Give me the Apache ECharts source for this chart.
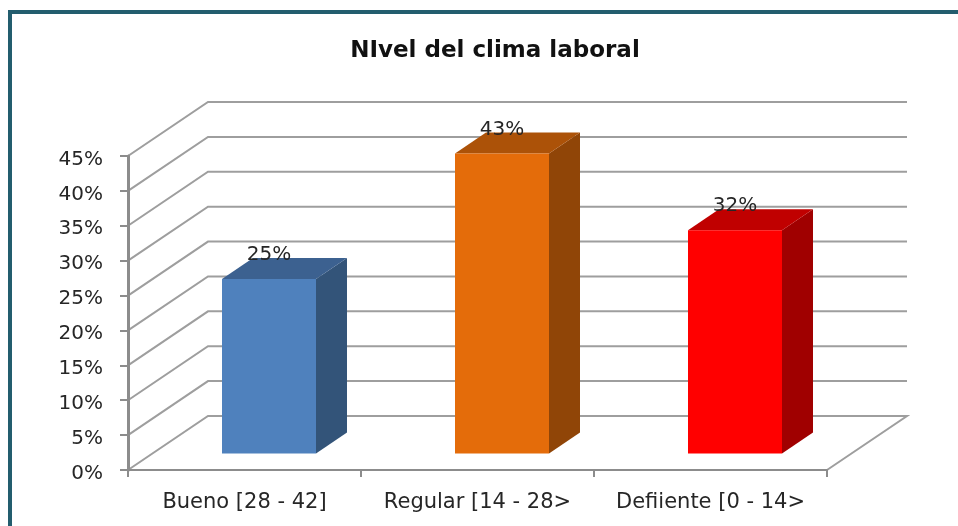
<!DOCTYPE html>
<html>
<head>
<meta charset="utf-8">
<style>
  html, body { margin: 0; padding: 0; background: #fff; overflow: hidden; }
  #frame { position: absolute; left: 8px; top: 10px; width: 950px; height: 516px; border-top: 4px solid #235d6e; border-left: 4px solid #235d6e; box-sizing: border-box; }
  #main { position: absolute; left: 0; top: 0; width: 958px; height: 526px; }
</style>
<script src="https://cdn.jsdelivr.net/npm/echarts@6/dist/echarts.min.js"></script>
</head>
<body>
<div id="frame"></div>
<div id="main"></div>
<script>
var categories = ['Bueno [28 - 42]', 'Regular [14 - 28>', 'Defiiente [0 - 14>'];
var values = [25, 43, 32];
var valueLabels = ['25%', '43%', '32%'];
var ticks = [0, 5, 10, 15, 20, 25, 30, 35, 40, 45];
var frontColors = ['#4f81bd', '#e46c0a', '#ff0000'];
var topColors = ['#3c6190', '#ac5208', '#c00000'];
var sideColors = ['#335479', '#904507', '#a00000'];

var font = '"DejaVu Sans"';
var textColor = '#262626';
var gridColor = '#9e9e9e';
var axisColor = '#8c8c8c';

// depth of the fake 3d box, in pixels
var wallDx = 80, wallDy = -54;
var barDepthX = 31, barDepthY = -21;
var barInsetX = 24.5, barInsetY = -16.5;
var barWidth = 94;

var myChart = echarts.init(document.getElementById('main'));

function renderWall(params, api) {
  var p = api.coord([0, api.value(0)]);
  var g = params.coordSys;
  var x0 = g.x, y = p[1];
  var right = g.x + g.width;
  var pts = [[x0, y], [x0 + wallDx, y + wallDy], [right + wallDx, y + wallDy]];
  if (api.value(0) === 0) {
    pts.push([right, y]);
  }
  return {
    type: 'polyline',
    shape: { points: pts },
    style: { stroke: gridColor, lineWidth: 2, fill: null },
    silent: true
  };
}

function renderBar(params, api) {
  var i = api.value(0);
  var top = api.coord([i, api.value(1)]);
  var base = api.coord([i, 0]);
  var cx = top[0] + barInsetX;
  var l = cx - barWidth / 2, r = cx + barWidth / 2;
  var t = top[1] + barInsetY, b = base[1] + barInsetY;
  return {
    type: 'group',
    children: [
      {
        type: 'polygon',
        shape: { points: [[r, t], [r + barDepthX, t + barDepthY], [r + barDepthX, b + barDepthY], [r, b]] },
        style: { fill: sideColors[i] }
      },
      {
        type: 'polygon',
        shape: { points: [[l, t], [l + barDepthX, t + barDepthY], [r + barDepthX, t + barDepthY], [r, t]] },
        style: { fill: topColors[i] }
      },
      {
        type: 'rect',
        shape: { x: l, y: t, width: barWidth, height: b - t },
        style: { fill: frontColors[i] }
      },
      {
        type: 'text',
        z2: 10,
        style: {
          text: valueLabels[i],
          x: cx,
          y: t - 24,
          align: 'center',
          verticalAlign: 'middle',
          font: '20px ' + font,
          fill: textColor
        }
      }
    ]
  };
}

var option = {
  animation: false,
  title: {
    text: 'NIvel del clima laboral',
    left: 490,
    top: 35,
    textAlign: 'center',
    textStyle: { fontFamily: font, fontSize: 23, fontWeight: 'bold', color: '#111' }
  },
  grid: { left: 128, right: 131, top: 156, bottom: 56 },
  xAxis: {
    type: 'category',
    data: categories,
    z: 4,
    axisLine: { lineStyle: { color: axisColor, width: 2 } },
    axisTick: { show: true, interval: 0, length: 7, lineStyle: { color: axisColor, width: 2 } },
    axisLabel: { interval: 0, fontFamily: font, fontSize: 21, color: textColor, margin: 22 },
    splitLine: { show: false }
  },
  yAxis: {
    type: 'value',
    min: 0,
    max: 45,
    interval: 5,
    z: 4,
    axisLine: { show: true, onZero: false, lineStyle: { color: axisColor, width: 3 } },
    axisTick: { show: true, length: 8, lineStyle: { color: axisColor, width: 2 } },
    axisLabel: {
      margin: 25,
      formatter: '{a|{value}%}',
      rich: { a: { fontFamily: font, fontSize: 20, color: textColor, padding: [7, 0, 0, 0] } }
    },
    splitLine: { show: false }
  },
  series: [
    {
      type: 'custom',
      coordinateSystem: 'cartesian2d',
      clip: false,
      silent: true,
      z: 1,
      renderItem: renderWall,
      encode: { y: 0 },
      data: ticks.map(function (t) { return [t]; })
    },
    {
      type: 'custom',
      coordinateSystem: 'cartesian2d',
      clip: false,
      z: 3,
      renderItem: renderBar,
      encode: { x: 0, y: 1 },
      data: values.map(function (v, i) { return [i, v]; })
    }
  ]
};

myChart.setOption(option);
</script>
</body>
</html>
